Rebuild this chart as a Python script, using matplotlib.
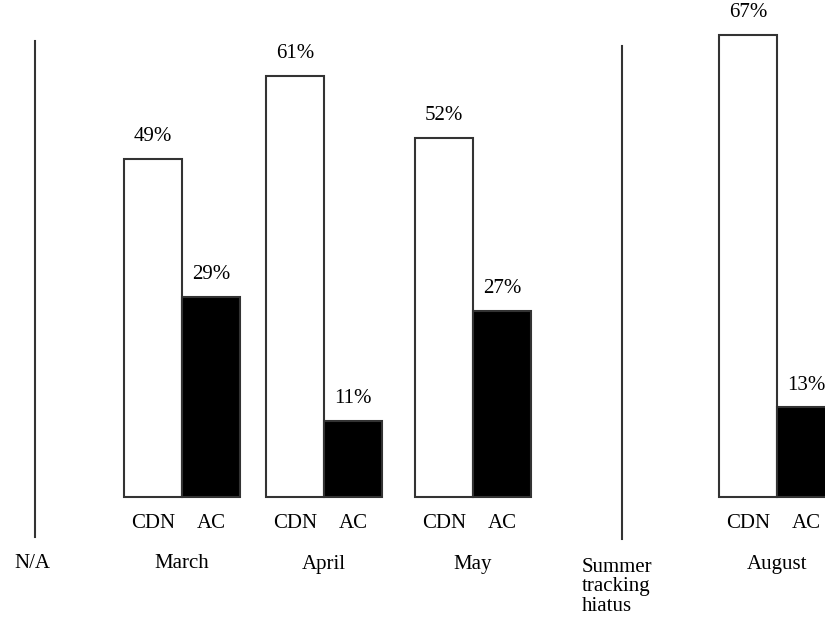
import matplotlib
matplotlib.use("Agg")
import matplotlib.pyplot as plt

# monthly share, CDN vs AC
months = ["March", "April", "May", "August"]
cdn = [49, 61, 52, 67]
ac = [29, 11, 27, 13]
series_names = ["CDN", "AC"]

# left edge of each month's pair of bars (x in pixel-like units)
group_left = [124, 266, 415, 719]
bar_w = 58

W, H = 825, 626
base_px = 497        # baseline distance from top
px_per_pct = 6.9
fs = 15

plt.rcParams["font.family"] = ["Liberation Serif", "DejaVu Serif"]

fig = plt.figure(figsize=(W / 100, H / 100), dpi=100)
ax = fig.add_axes([0, 0, 1, 1])
ax.set_xlim(0, W)
ax.set_ylim(-(H - base_px) / px_per_pct, base_px / px_per_pct)
ax.axis("off")

edge = "#333333"
x_cdn = [g + bar_w / 2 for g in group_left]
x_ac = [g + bar_w * 1.5 for g in group_left]
b1 = ax.bar(x_cdn, cdn, width=bar_w, color="white", edgecolor=edge, linewidth=1.5)
b2 = ax.bar(x_ac, ac, width=bar_w, color="black", edgecolor=edge, linewidth=1.5)

for bars, vals in [(b1, cdn), (b2, ac)]:
    for rect, v in zip(bars, vals):
        ax.annotate(f"{v}%", (rect.get_x() + rect.get_width() / 2, v),
                    xytext=(0, 16), textcoords="offset points",
                    ha="center", va="center", fontsize=fs, clip_on=False)

def fy(py):
    # figure-pixel row -> axes fraction
    return 1 - py / H

tr = ax.get_xaxis_transform()
for xc, xa, m in zip(x_cdn, x_ac, months):
    ax.text(xc, fy(523), series_names[0], transform=tr, ha="center", va="center", fontsize=fs)
    ax.text(xa, fy(523), series_names[1], transform=tr, ha="center", va="center", fontsize=fs)
    ax.text((xc + xa) / 2, fy(564), m, transform=tr, ha="center", va="center", fontsize=fs)

ax.text(32, fy(563), "N/A", transform=tr, ha="center", va="center", fontsize=fs)
ax.text(582, fy(587), "Summer\ntracking\nhiatus", transform=tr, ha="left", va="center",
        fontsize=fs, linespacing=1.05)

# separators for the months with no data
ax.axvline(35, ymin=fy(537), ymax=fy(41), color=edge, lw=1.5)
ax.axvline(622, ymin=fy(539), ymax=fy(46), color=edge, lw=1.5)

fig.savefig("out.png", dpi=100, facecolor="white")
